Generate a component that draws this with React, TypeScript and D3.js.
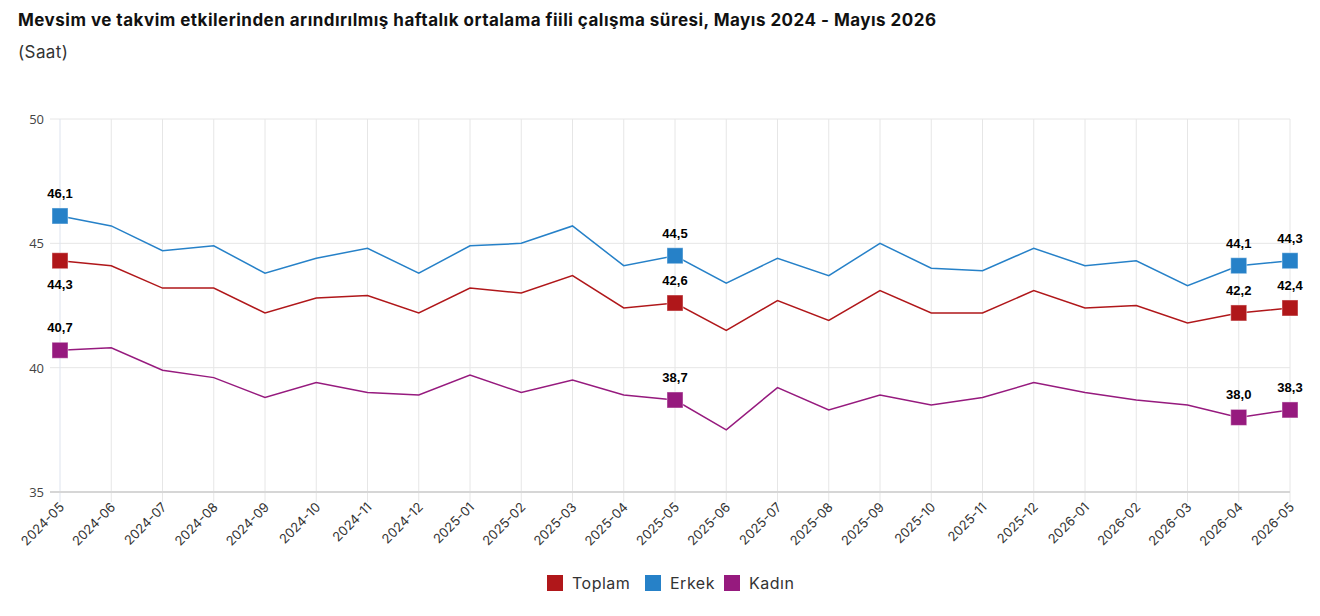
import React from "react";
import * as d3 from "d3";

const months = [
  "2024-05", "2024-06", "2024-07", "2024-08", "2024-09", "2024-10", "2024-11", "2024-12",
  "2025-01", "2025-02", "2025-03", "2025-04", "2025-05", "2025-06", "2025-07", "2025-08",
  "2025-09", "2025-10", "2025-11", "2025-12", "2026-01", "2026-02", "2026-03", "2026-04", "2026-05",
];

const toplam = [44.3, 44.1, 43.2, 43.2, 42.2, 42.8, 42.9, 42.2, 43.2, 43.0, 43.7, 42.4, 42.6, 41.5, 42.7, 41.9, 43.1, 42.2, 42.2, 43.1, 42.4, 42.5, 41.8, 42.2, 42.4];
const erkek = [46.1, 45.7, 44.7, 44.9, 43.8, 44.4, 44.8, 43.8, 44.9, 45.0, 45.7, 44.1, 44.5, 43.4, 44.4, 43.7, 45.0, 44.0, 43.9, 44.8, 44.1, 44.3, 43.3, 44.1, 44.3];
const kadin = [40.7, 40.8, 39.9, 39.6, 38.8, 39.4, 39.0, 38.9, 39.7, 39.0, 39.5, 38.9, 38.7, 37.5, 39.2, 38.3, 38.9, 38.5, 38.8, 39.4, 39.0, 38.7, 38.5, 38.0, 38.3];

const yTicks = [35, 40, 45, 50];
const highlighted = [0, 12, 23, 24];

const seriesList = [
  { name: "Toplam", values: toplam, color: "#b0171a", labelBelowAt: [0] },
  { name: "Erkek", values: erkek, color: "#2681c8", labelBelowAt: [] as number[] },
  { name: "Kadın", values: kadin, color: "#961a7e", labelBelowAt: [] as number[] },
];

const W = 1320;
const H = 616;
const plotLeft = 50;
const plotRight = 1290;
const plotTop = 119;
const plotBottom = 492;

const fmt = (v: number) => v.toFixed(1).replace(".", ",");

export default function App() {
  const x = d3.scalePoint<string>().domain(months).range([60, 1290]);
  const y = d3.scaleLinear().domain([35, 50]).range([plotBottom, plotTop]);
  const line = d3
    .line<number>()
    .x((_, i) => x(months[i]) as number)
    .y((d) => y(d));

  const yFont = "'Open Sans', sans-serif";
  const xFont = "Inter, sans-serif";
  const labelFont = "'Liberation Sans', Arial, sans-serif";
  const legendItems = [
    { name: "Toplam", color: "#b0171a", x: 547 },
    { name: "Erkek", color: "#2681c8", x: 645 },
    { name: "Kadın", color: "#961a7e", x: 724 },
  ];

  return (
    <svg
      width={W}
      height={H}
      style={{ position: "absolute", left: 0, top: 0, background: "#fff" }}
    >
      <text x={18} y={26} fontFamily="Inter, sans-serif" fontWeight={700} fontSize={17} letterSpacing={0.48} fill="#111">
        Mevsim ve takvim etkilerinden arındırılmış haftalık ortalama fiili çalışma süresi, Mayıs 2024 - Mayıs 2026
      </text>
      <text x={18} y={58} fontFamily="Inter, sans-serif" fontSize={17} letterSpacing={0.4} fill="#333">
        (Saat)
      </text>

      {/* horizontal grid */}
      {yTicks.map((t) => (
        <g key={t}>
          {t !== 35 && (
            <line x1={plotLeft} x2={plotRight} y1={y(t)} y2={y(t)} stroke="#e6e6e6" strokeWidth={1} />
          )}
          <text
            x={44}
            y={y(t) + 5}
            textAnchor="end"
            fontFamily={yFont}
            fontSize={13}
            fill="#444"
          >
            {t}
          </text>
        </g>
      ))}

      {/* vertical grid and ticks */}
      {months.map((m, i) => (
        <g key={m}>
          <line
            x1={x(m)}
            x2={x(m)}
            y1={plotTop}
            y2={plotBottom + 10}
            stroke={i === 0 ? "#dde3ee" : "#e6e6e6"}
            strokeWidth={1}
          />
          <text
            transform={`translate(${(x(m) as number) + 5},${plotBottom + 16}) rotate(-45)`}
            textAnchor="end"
            fontFamily={xFont}
            fontSize={13}
            fill="#333"
          >
            {m}
          </text>
        </g>
      ))}
      <line x1={plotLeft} x2={plotRight} y1={plotBottom} y2={plotBottom} stroke="#d6d6d6" strokeWidth={2} />

      {/* series lines */}
      {seriesList.map((s) => (
        <path key={s.name} d={line(s.values) || ""} fill="none" stroke={s.color} strokeWidth={1.5} />
      ))}

      {/* highlighted markers */}
      {seriesList.map((s) =>
        highlighted.map((i) => {
          const cx = x(months[i]) as number;
          const cy = y(s.values[i]);
          return (
            <rect
              key={s.name + i}
              x={cx - 8}
              y={cy - 8}
              width={16}
              height={16}
              fill={s.color}
              stroke="rgba(255,255,255,0.45)"
              strokeWidth={1}
            />
          );
        })
      )}

      {/* value labels */}
      {seriesList.map((s) =>
        highlighted.map((i) => {
          const cx = x(months[i]) as number;
          const cy = y(s.values[i]);
          const below = s.labelBelowAt.includes(i);
          return (
            <text
              key={"l" + s.name + i}
              x={cx}
              y={below ? cy + 28 : cy - 18}
              textAnchor="middle"
              fontFamily={labelFont}
              fontWeight={700}
              fontSize={13}
              fill="#000"
            >
              {fmt(s.values[i])}
            </text>
          );
        })
      )}

      {/* legend */}
      {legendItems.map((l) => (
        <g key={l.name}>
          <rect x={l.x} y={575} width={16} height={16} fill={l.color} />
          <text x={l.x + 25} y={589} fontFamily="Inter, sans-serif" fontSize={16} letterSpacing={0.5} fill="#333">
            {l.name}
          </text>
        </g>
      ))}
    </svg>
  );
}
